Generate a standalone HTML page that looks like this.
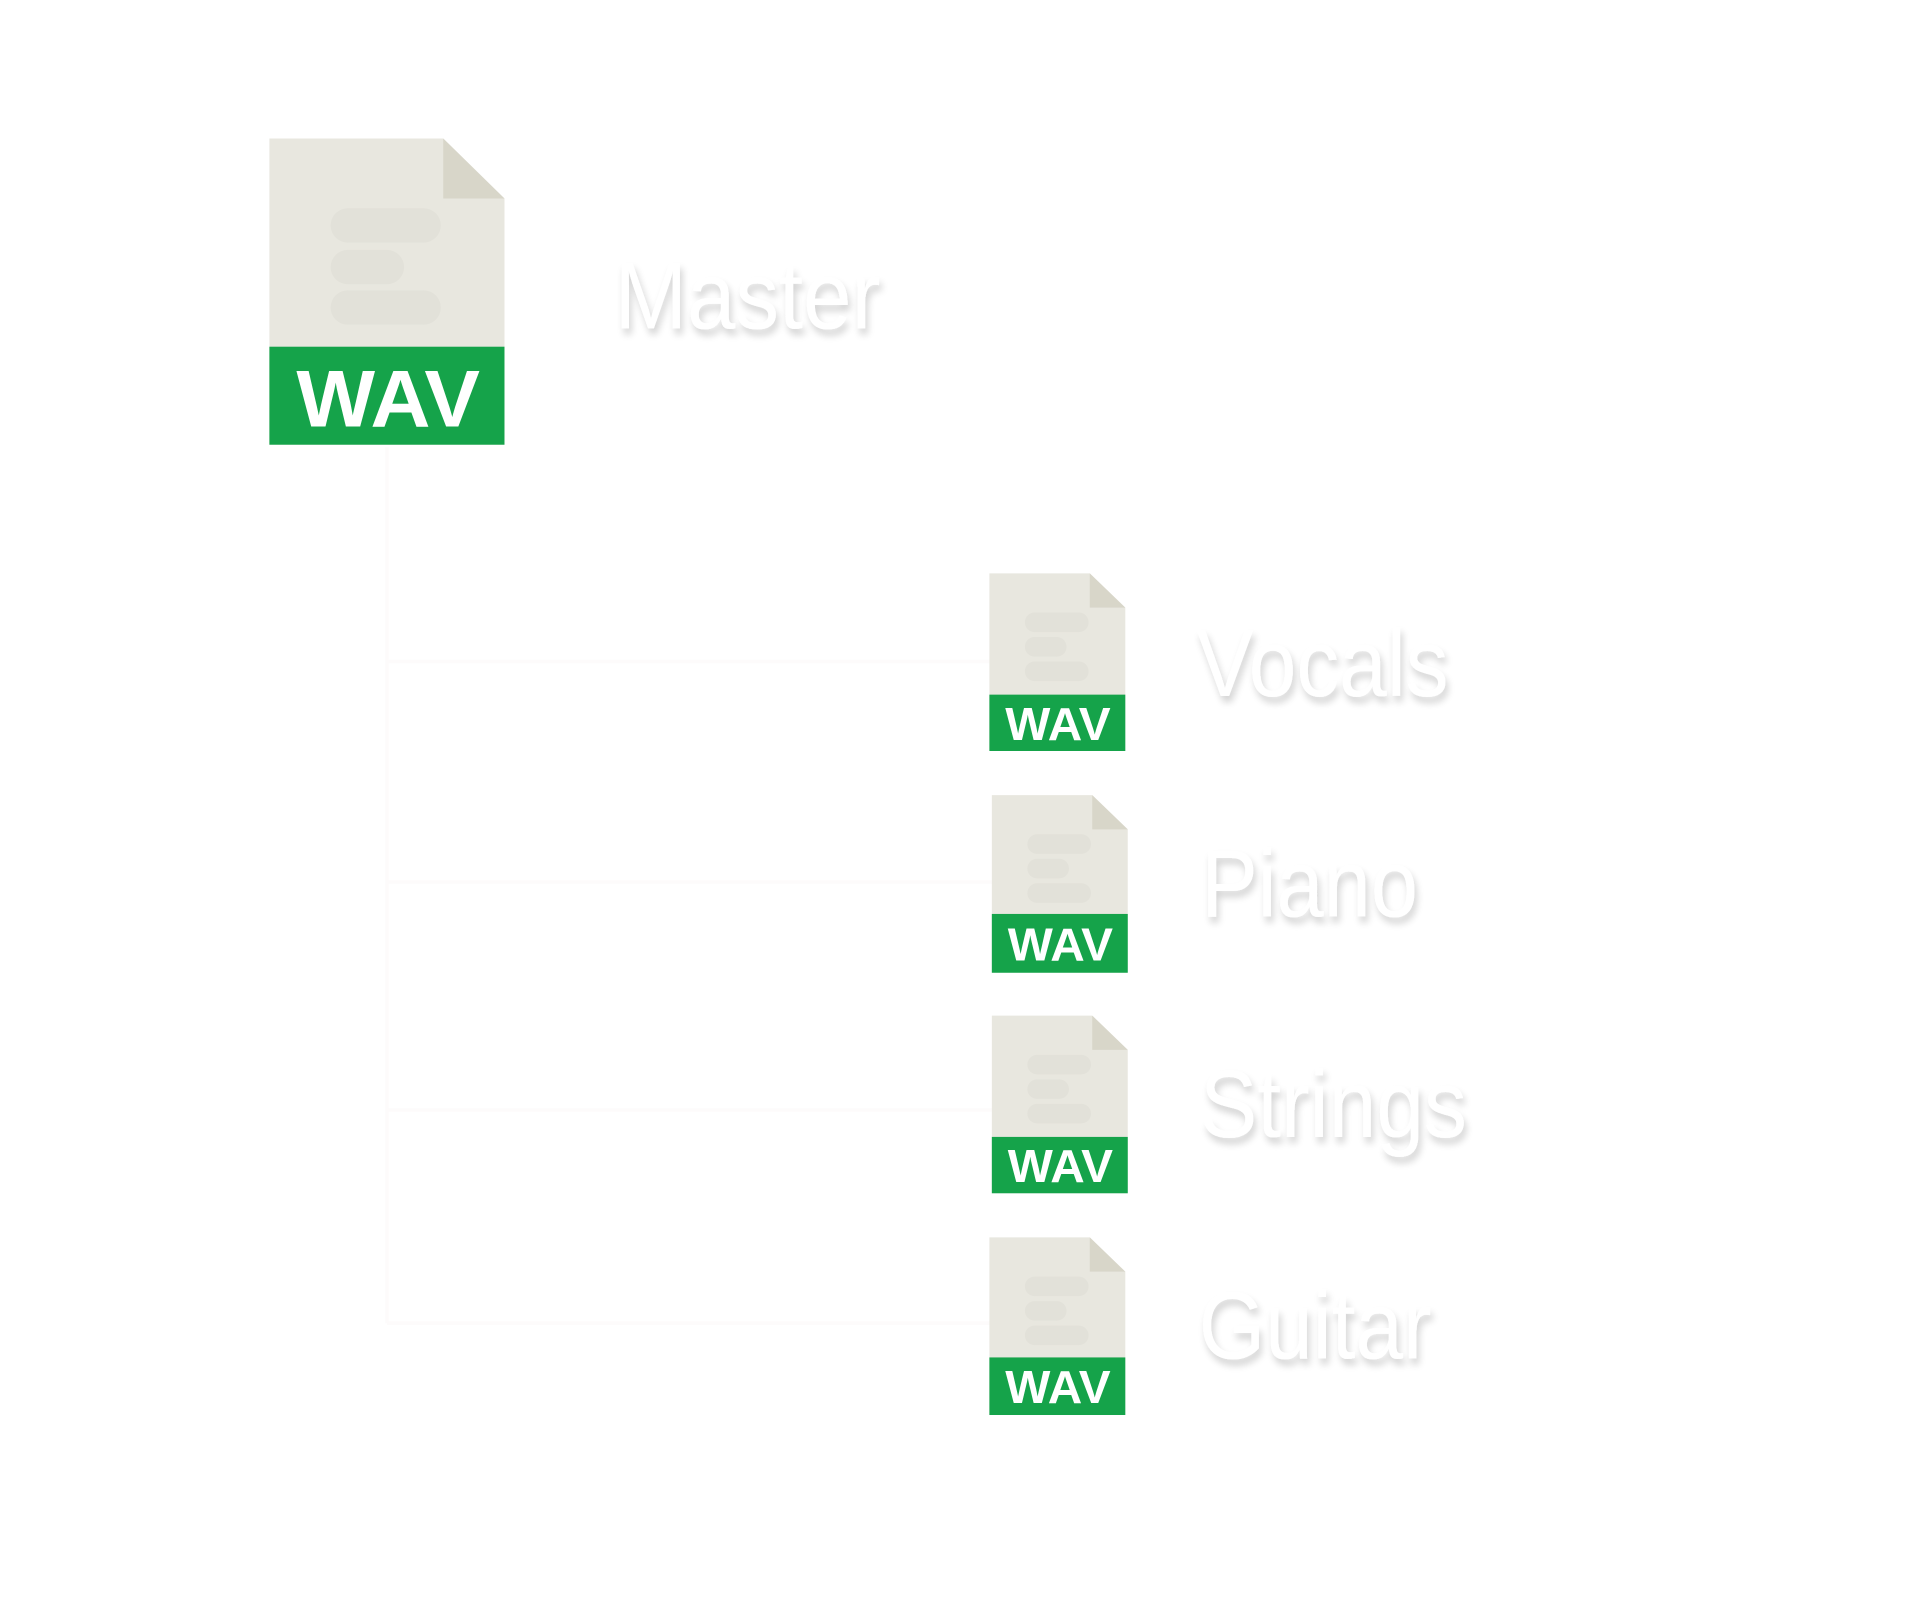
<!DOCTYPE html>
<html><head><meta charset="utf-8"><style>
html,body{margin:0;padding:0;background:#fff;width:1920px;height:1600px;overflow:hidden}
svg{display:block}
.lbl{font-family:"Liberation Sans",sans-serif;font-size:78px;fill:#fff;filter:url(#sh)}
.wav{font-family:"Liberation Sans",sans-serif;font-weight:bold;fill:#fff;text-anchor:middle}
</style></head><body>
<svg width="1920" height="1600" viewBox="0 0 1568 1306" preserveAspectRatio="none">
<defs>
<filter id="sh" x="-20%" y="-30%" width="140%" height="170%">
<feGaussianBlur in="SourceAlpha" stdDeviation="3"/>
<feOffset dx="2" dy="5" result="b"/>
<feComponentTransfer><feFuncA type="linear" slope="0.18"/></feComponentTransfer>
<feMerge><feMergeNode/><feMergeNode in="SourceGraphic"/></feMerge>
</filter>
</defs>
<g stroke="#fdfbfb" stroke-width="3" fill="none">
<path d="M316 365 V1080"/>
<path d="M316 540 H810"/><path d="M316 720 H810"/><path d="M316 906 H810"/><path d="M316 1080 H810"/>
</g>
<path d="M220 113 H362 L412 162 V363 H220 Z" fill="#e8e7df"/>
<path d="M362 113 L412 162 H362 Z" fill="#d8d6c9"/>
<rect x="270" y="170" width="90" height="28" rx="14" fill="#e2e1d9"/>
<rect x="270" y="204" width="60" height="28" rx="14" fill="#e2e1d9"/>
<rect x="270" y="237" width="90" height="28" rx="14" fill="#e2e1d9"/>
<rect x="220" y="283" width="192" height="80" fill="#15a34a"/>
<text class="wav" x="317" y="348" font-size="66" textLength="150" lengthAdjust="spacingAndGlyphs">WAV</text>
<text class="lbl" x="502" y="268" textLength="217" lengthAdjust="spacingAndGlyphs">Master</text>

<g transform="translate(808,468)">
<path d="M0 0 H82 L111 28 V145 H0 Z" fill="#e8e7df"/>
<path d="M82 0 L111 28 H82 Z" fill="#d8d6c9"/>
<rect x="29" y="32" width="52" height="16" rx="8" fill="#e2e1d9"/>
<rect x="29" y="52" width="34" height="16" rx="8" fill="#e2e1d9"/>
<rect x="29" y="72" width="52" height="16" rx="8" fill="#e2e1d9"/>
<rect x="0" y="99" width="111" height="46" fill="#15a34a"/>
<text class="wav" x="56" y="136" font-size="38" textLength="86" lengthAdjust="spacingAndGlyphs">WAV</text>
</g>
<g transform="translate(810,649)">
<path d="M0 0 H82 L111 28 V145 H0 Z" fill="#e8e7df"/>
<path d="M82 0 L111 28 H82 Z" fill="#d8d6c9"/>
<rect x="29" y="32" width="52" height="16" rx="8" fill="#e2e1d9"/>
<rect x="29" y="52" width="34" height="16" rx="8" fill="#e2e1d9"/>
<rect x="29" y="72" width="52" height="16" rx="8" fill="#e2e1d9"/>
<rect x="0" y="97" width="111" height="48" fill="#15a34a"/>
<text class="wav" x="56" y="135" font-size="38" textLength="86" lengthAdjust="spacingAndGlyphs">WAV</text>
</g>
<g transform="translate(810,829)">
<path d="M0 0 H82 L111 28 V145 H0 Z" fill="#e8e7df"/>
<path d="M82 0 L111 28 H82 Z" fill="#d8d6c9"/>
<rect x="29" y="32" width="52" height="16" rx="8" fill="#e2e1d9"/>
<rect x="29" y="52" width="34" height="16" rx="8" fill="#e2e1d9"/>
<rect x="29" y="72" width="52" height="16" rx="8" fill="#e2e1d9"/>
<rect x="0" y="99" width="111" height="46" fill="#15a34a"/>
<text class="wav" x="56" y="136" font-size="38" textLength="86" lengthAdjust="spacingAndGlyphs">WAV</text>
</g>
<g transform="translate(808,1010)">
<path d="M0 0 H82 L111 28 V145 H0 Z" fill="#e8e7df"/>
<path d="M82 0 L111 28 H82 Z" fill="#d8d6c9"/>
<rect x="29" y="32" width="52" height="16" rx="8" fill="#e2e1d9"/>
<rect x="29" y="52" width="34" height="16" rx="8" fill="#e2e1d9"/>
<rect x="29" y="72" width="52" height="16" rx="8" fill="#e2e1d9"/>
<rect x="0" y="98" width="111" height="47" fill="#15a34a"/>
<text class="wav" x="56" y="135" font-size="38" textLength="86" lengthAdjust="spacingAndGlyphs">WAV</text>
</g>

<text class="lbl" x="977" y="568" textLength="206" lengthAdjust="spacingAndGlyphs">Vocals</text>
<text class="lbl" x="981" y="748" textLength="177" lengthAdjust="spacingAndGlyphs">Piano</text>
<text class="lbl" x="980" y="928" textLength="218" lengthAdjust="spacingAndGlyphs">Strings</text>
<text class="lbl" x="979" y="1109" textLength="190" lengthAdjust="spacingAndGlyphs">Guitar</text>
</svg>
</body></html>
